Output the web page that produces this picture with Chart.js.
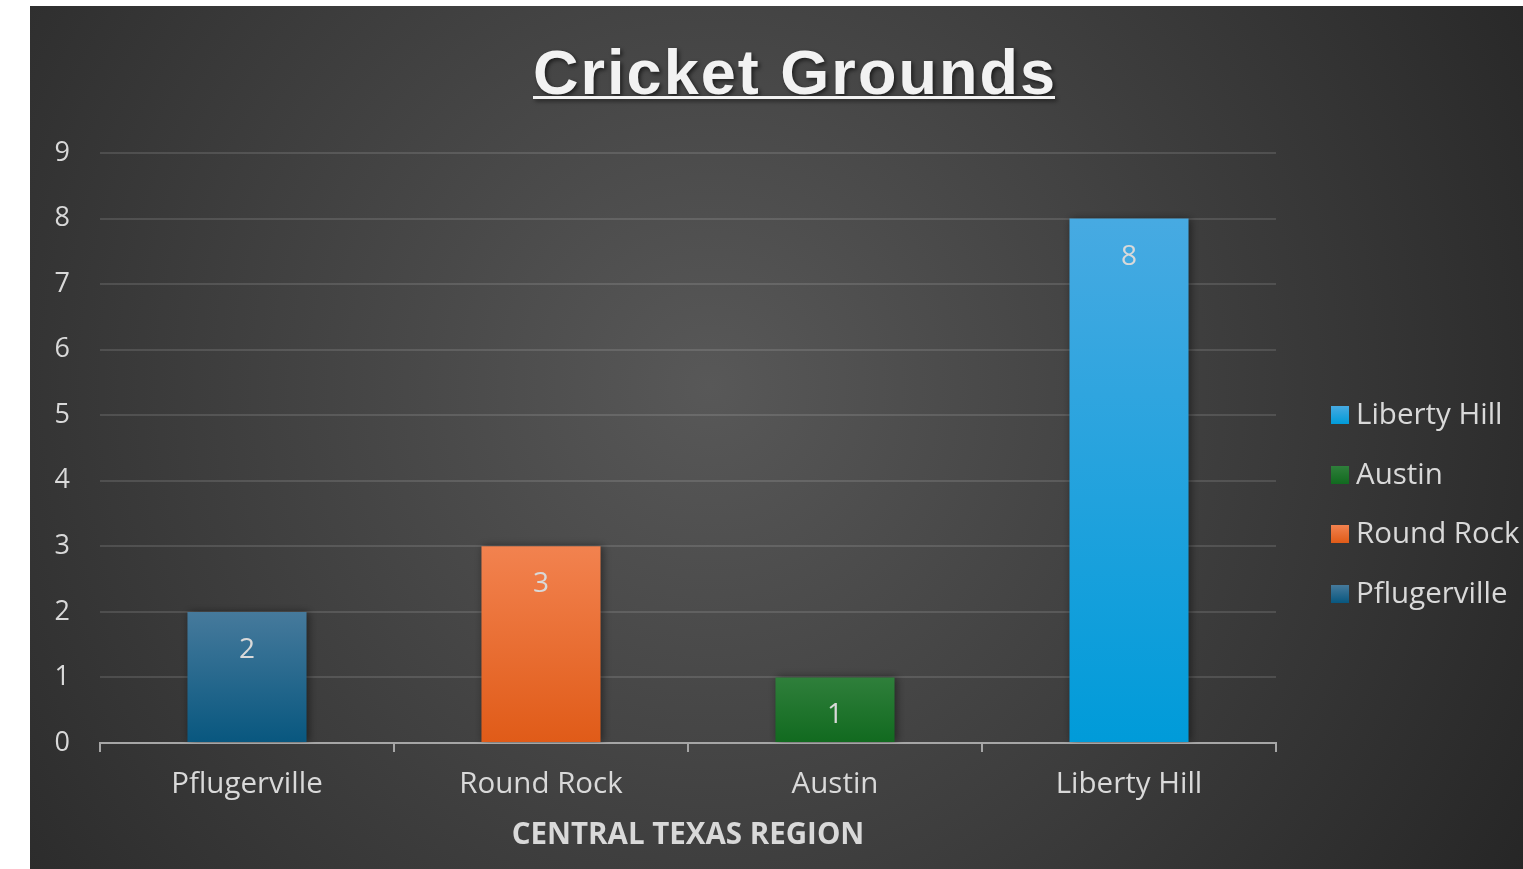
<!DOCTYPE html>
<html>
<head>
<meta charset="utf-8">
<script src="https://cdn.jsdelivr.net/npm/chart.js@4"></script>
<style>
    html, body { margin: 0; padding: 0; background: #fff; }
    #wrap { position: absolute; left: 30px; top: 6px; width: 1493px; height: 863px; }
</style>
</head>
<body>
<div id="wrap"><canvas id="chart1"></canvas></div>
<script>
// Дані графіка
const categories = ['Pflugerville', 'Round Rock', 'Austin', 'Liberty Hill'];
const groundCounts = [2, 3, 1, 8];
const yTickValues = [0, 1, 2, 3, 4, 5, 6, 7, 8, 9];
const chartTitle = 'Cricket Grounds';
const xAxisTitle = 'CENTRAL TEXAS REGION';

// Кольори стовпчиків (верх / низ градієнта)
const barTopColors = ['#467a9c', '#f2824f', '#2f7f3b', '#47aae2'];
const barBottomColors = ['#08577f', '#e05b18', '#116a1f', '#009bd9'];

const FONT = '"Open Sans", "Noto Sans", sans-serif';
const TEXT_COLOR = '#d9d9d9';

function barGradient(ctx, i, top, bottom) {
    const g = ctx.createLinearGradient(0, top, 0, bottom);
    g.addColorStop(0, barTopColors[i]);
    g.addColorStop(1, barBottomColors[i]);
    return g;
}

// Фон, заголовок, легенда, підписи значень
const decorPlugin = {
    id: 'decor',
    beforeDraw(chart) {
        const { ctx, width, height } = chart;
        ctx.save();
        const g = ctx.createRadialGradient(680, 380, 0, 680, 380, 950);
        g.addColorStop(0, '#585858');
        g.addColorStop(1, '#262626');
        ctx.fillStyle = g;
        ctx.fillRect(0, 0, width, height);

        // заголовок
        const cx = 764, baseline = 88, targetW = 522;
        ctx.font = 'bold 63px "Liberation Sans", Arial, sans-serif';
        const w0 = ctx.measureText(chartTitle).width;
        const spacing = Math.max(0, (targetW - w0) / (chartTitle.length - 1));
        ctx.letterSpacing = spacing + 'px';
        const w = ctx.measureText(chartTitle).width - spacing;
        ctx.textAlign = 'left';
        ctx.textBaseline = 'alphabetic';
        ctx.shadowColor = 'rgba(0,0,0,0.6)';
        ctx.shadowBlur = 4;
        ctx.shadowOffsetX = 2;
        ctx.shadowOffsetY = 2;
        ctx.fillStyle = '#f2f2f2';
        ctx.fillText(chartTitle, cx - w / 2, baseline);
        ctx.fillRect(cx - w / 2, baseline + 2, w, 3);
        ctx.restore();

        // легенда (у зворотному порядку)
        ctx.save();
        ctx.font = '29.5px ' + FONT;
        ctx.textBaseline = 'middle';
        ctx.textAlign = 'left';
        const rowY = [409, 469, 528, 588];
        const order = [3, 2, 1, 0];
        order.forEach((idx, r) => {
            const y = rowY[r];
            ctx.fillStyle = barGradient(ctx, idx, y - 9, y + 9);
            ctx.fillRect(1301, y - 9, 18, 18);
            ctx.fillStyle = TEXT_COLOR;
            ctx.fillText(categories[idx], 1326, y + 1);
        });
        ctx.restore();
    },
    beforeDatasetsDraw(chart) {
        const ctx = chart.ctx;
        ctx.save();
        ctx.shadowColor = 'rgba(0,0,0,0.45)';
        ctx.shadowBlur = 8;
        ctx.shadowOffsetX = 2;
        ctx.shadowOffsetY = 0;
    },
    afterDatasetsDraw(chart) {
        const ctx = chart.ctx;
        ctx.restore();
        ctx.save();
        ctx.font = '28px ' + FONT;
        ctx.fillStyle = TEXT_COLOR;
        ctx.textAlign = 'center';
        ctx.textBaseline = 'middle';
        const meta = chart.getDatasetMeta(0);
        meta.data.forEach((bar, i) => {
            ctx.fillText(String(groundCounts[i]), bar.x, bar.y + 38);
        });
        ctx.restore();
    }
};

document.addEventListener('DOMContentLoaded', () => {
    const ctx = document.getElementById('chart1').getContext('2d');

    new Chart(ctx, {
        type: 'bar',
        data: {
            labels: categories,
            datasets: [{
                label: chartTitle,
                data: groundCounts,
                backgroundColor: (c) => {
                    const chart = c.chart;
                    if (!chart.chartArea || c.type !== 'data') return barBottomColors[c.dataIndex || 0];
                    const yScale = chart.scales.y;
                    return barGradient(chart.ctx, c.dataIndex,
                        yScale.getPixelForValue(groundCounts[c.dataIndex]), yScale.getPixelForValue(0));
                },
                borderWidth: 0,
                categoryPercentage: 1,
                barPercentage: 0.405
            }]
        },
        options: {
            responsive: true,
            maintainAspectRatio: false,
            animation: false,
            layout: { padding: { top: 147, right: 247, left: 0, bottom: 0 } },
            plugins: {
                legend: { display: false },
                title: { display: false },
                tooltip: { enabled: false }
            },
            scales: {
                x: {
                    afterFit: (s) => { s.height = 126; },
                    border: { display: true, color: '#a6a6a6', width: 2 },
                    grid: {
                        offset: true,
                        drawOnChartArea: false,
                        drawTicks: true,
                        tickLength: 9,
                        color: '#a6a6a6',
                        lineWidth: 2
                    },
                    ticks: {
                        color: TEXT_COLOR,
                        font: { family: FONT, size: 29.5 },
                        padding: 15
                    },
                    title: {
                        display: true,
                        text: xAxisTitle,
                        color: TEXT_COLOR,
                        font: { family: FONT, size: 29.5, weight: 'bold' },
                        padding: { top: 4, bottom: 16 }
                    }
                },
                y: {
                    min: yTickValues[0],
                    max: yTickValues[yTickValues.length - 1],
                    afterFit: (s) => { s.width = 70; },
                    afterBuildTicks: (s) => { s.ticks = yTickValues.map(v => ({ value: v })); },
                    border: { display: false },
                    grid: {
                        color: 'rgba(255,255,255,0.12)',
                        lineWidth: 2,
                        drawTicks: false
                    },
                    ticks: {
                        color: TEXT_COLOR,
                        font: { family: FONT, size: 27 },
                        padding: 30
                    }
                }
            }
        },
        plugins: [decorPlugin]
    });
});
</script>
</body>
</html>
